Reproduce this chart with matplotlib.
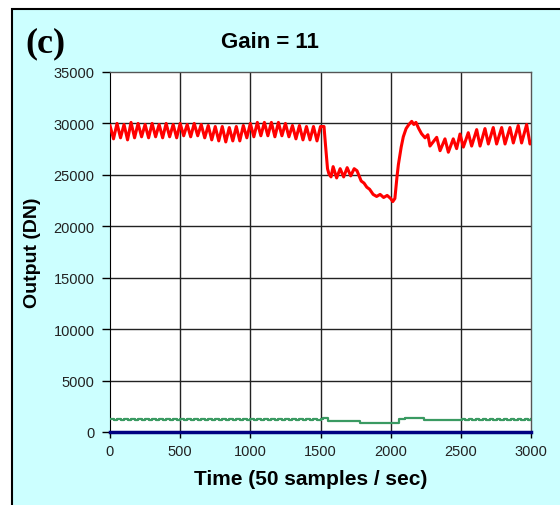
import matplotlib
matplotlib.use("Agg")
import matplotlib.pyplot as plt
from matplotlib.patches import Rectangle

# ---------------- data ----------------
red_t = [0, 25, 50, 75, 100, 125, 150, 175, 200, 225, 250, 275, 300, 325, 350, 375,
         400, 425, 450, 475, 500, 525, 550, 575, 600, 625, 650, 675, 700, 725, 750, 775,
         800, 825, 850, 875, 900, 925, 950, 975, 1000, 1025, 1050, 1075, 1100, 1125,
         1150, 1175, 1200, 1225, 1250, 1275, 1300, 1325, 1350, 1375, 1400, 1425, 1450,
         1475, 1500, 1525, 1535, 1550, 1560, 1575, 1590, 1615, 1640, 1665, 1690, 1715,
         1740, 1760, 1790, 1810, 1830, 1850, 1875, 1900, 1925, 1950, 1975, 2000, 2015,
         2030, 2045, 2055, 2075, 2090, 2110, 2130, 2150, 2165, 2180, 2200, 2220, 2245,
         2265, 2280, 2328, 2352, 2387, 2411, 2446, 2470, 2494, 2518, 2553, 2577, 2613,
         2637, 2672, 2696, 2731, 2755, 2791, 2815, 2850, 2874, 2909, 2933, 2969, 2993,
         3000]
red_v = [29800, 28500, 30000, 28600, 29900, 28400, 30100, 28600, 30000, 28700, 29900,
         28600, 30000, 28700, 29900, 28600, 30000, 28700, 29900, 28600, 30000, 28800,
         29900, 28700, 30000, 28800, 29900, 28600, 29800, 28400, 29700, 28300, 29700,
         28200, 29600, 28300, 29700, 28300, 29800, 28600, 30000, 28700, 30100, 28800,
         30100, 28800, 30100, 28700, 30100, 28800, 30000, 28700, 29800, 28500, 29800,
         28400, 29700, 28400, 29700, 28300, 29700, 29700, 28000, 25600, 25100, 24800,
         25800, 24700, 25600, 24800, 25700, 24900, 25600, 25400, 24400, 24200, 23800,
         23600, 23100, 22900, 23100, 22800, 23000, 22700, 22400, 22700, 24800, 26000,
         27700, 28700, 29500, 29900, 30200, 29900, 30100, 29500, 29000, 28600, 28900,
         27800, 28650, 27350, 28500, 27200, 28500, 27550, 28970, 27700, 29100, 27800,
         29400, 27800, 29500, 28000, 29600, 28000, 29600, 28000, 29600, 28100, 29800,
         28100, 29900, 28000, 28200]

green_t = [0, 25, 50, 75, 100, 125, 150, 175, 200, 225, 250, 275, 300, 325, 350, 375,
           400, 425, 450, 475, 500, 525, 550, 575, 600, 625, 650, 675, 700, 725, 750,
           775, 800, 825, 850, 875, 900, 925, 950, 975, 1000, 1025, 1050, 1075, 1100,
           1125, 1150, 1175, 1200, 1225, 1250, 1275, 1300, 1325, 1350, 1375, 1400, 1425,
           1450, 1475, 1500, 1518, 1553, 1780, 1785, 2050, 2060, 2100, 2230, 2235, 2480,
           2505, 2530, 2555, 2580, 2605, 2630, 2655, 2680, 2705, 2730, 2755, 2780, 2805,
           2830, 2855, 2880, 2905, 2930, 2955, 2980, 3000]
green_v = [1270, 1180, 1270, 1180, 1270, 1180, 1270, 1180, 1270, 1180, 1270, 1180, 1270,
           1180, 1270, 1180, 1270, 1180, 1270, 1180, 1270, 1180, 1270, 1180, 1270, 1180,
           1270, 1180, 1270, 1180, 1270, 1180, 1270, 1180, 1270, 1180, 1270, 1180, 1270,
           1180, 1270, 1180, 1270, 1180, 1270, 1180, 1270, 1180, 1270, 1180, 1270, 1180,
           1270, 1180, 1270, 1180, 1270, 1180, 1270, 1180, 1270, 1330, 1040, 1040, 850,
           850, 1260, 1360, 1360, 1200, 1200, 1270, 1180, 1270, 1180, 1270, 1180, 1270,
           1180, 1270, 1180, 1270, 1180, 1270, 1180, 1270, 1180, 1270, 1180, 1270, 1180,
           1220]

blue_t = [0, 3000]
blue_v = [0, 0]

x_ticks = [0, 500, 1000, 1500, 2000, 2500, 3000]
y_ticks = [0, 5000, 10000, 15000, 20000, 25000, 30000, 35000]

# ---------------- figure ----------------
W, H = 560, 506
fig = plt.figure(figsize=(W / 100, H / 100), dpi=100)
fig.patch.set_facecolor("white")
bg = Rectangle((12 / W, -0.2), 1.2, 1 - 10 / H + 0.2,
               transform=fig.transFigure, facecolor="#CCFFFF",
               edgecolor="black", linewidth=1.5, zorder=-10)
fig.add_artist(bg)

ax = fig.add_axes([110 / W, 73 / H, 421 / W, 360 / H])
ax.set_zorder(1)
ax.set_facecolor("white")

for v in x_ticks[1:-1]:
    ax.axvline(v, color="#222222", lw=1.0, zorder=1)
for v in y_ticks[1:-1]:
    ax.axhline(v, color="#222222", lw=1.0, zorder=1)

ax.plot(red_t, red_v, color="#FF0000", lw=2.2, zorder=3)
ax.plot(green_t, green_v, color="#3A9A62", lw=1.6, drawstyle="steps-post", zorder=3)
ax.plot(blue_t, blue_v, color="#000080", lw=2.5, zorder=4, clip_on=False)

ax.set_xlim(0, 3000)
ax.set_ylim(0, 35000)
ax.set_xticks(x_ticks)
ax.set_yticks(y_ticks)
ax.set_xticklabels([str(v) for v in x_ticks])
ax.set_yticklabels([str(v) for v in y_ticks])

for s in ["top", "right"]:
    ax.spines[s].set_color("#555555")
    ax.spines[s].set_linewidth(1.0)
ax.spines["left"].set_color("black")
ax.spines["bottom"].set_color("black")

ax.tick_params(axis="y", direction="out", length=6, width=1, pad=5,
               labelsize=10.5, labelcolor="#222222")
ax.tick_params(axis="x", direction="out", length=4, width=1, pad=5,
               labelsize=10.5, labelcolor="#222222")
for lab in ax.get_xticklabels() + ax.get_yticklabels():
    lab.set_fontfamily("Liberation Sans")

ax.set_ylabel("Output (DN)", fontsize=14, fontweight="bold",
              fontfamily="Liberation Sans")
ax.yaxis.set_label_coords(-0.165, 0.5)
ax.set_xlabel("Time (50 samples / sec)", fontsize=15, fontweight="bold",
              fontfamily="Liberation Sans", va="center")
ax.xaxis.set_label_coords(0.477, -0.13)

fig.text(270 / W, 1 - 43 / H, "Gain = 11", ha="center", va="center",
         fontsize=16, fontweight="bold", fontfamily="Liberation Sans")
fig.text(25 / W, 1 - 44 / H, "(c)", ha="left", va="center",
         fontsize=26, fontweight="bold", fontfamily="Liberation Serif")

fig.savefig("out.png", dpi=100, facecolor=fig.get_facecolor())
